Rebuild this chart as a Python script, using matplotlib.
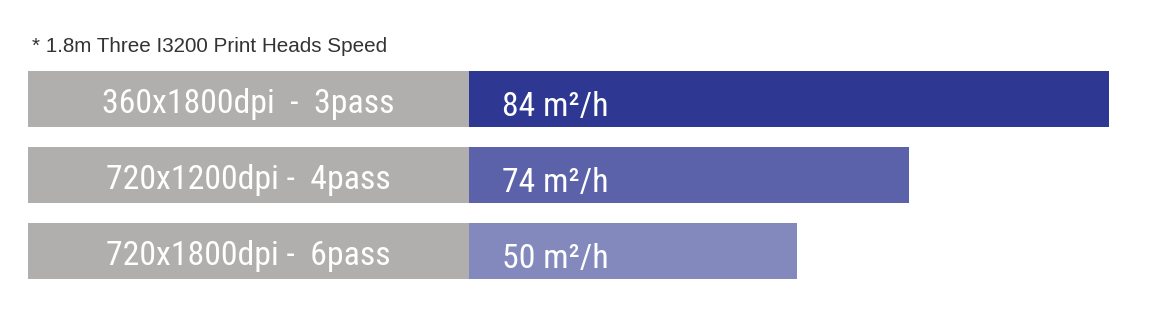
import matplotlib
matplotlib.use("Agg")
import matplotlib.pyplot as plt
from matplotlib import font_manager

# data
modes = ["360x1800dpi  -  3pass", "720x1200dpi -  4pass", "720x1800dpi -  6pass"]
speeds = [84, 74, 50]
bar_lengths = [640, 440, 328]   # drawn length of the speed bars (not proportional to the speeds)
label_width = 441               # width of the grey label block
title = "* 1.8m Three I3200 Print Heads Speed"

names = {f.name for f in font_manager.fontManager.ttflist}
narrow = "Liberation Sans"
for cand in ["Liberation Sans Narrow", "Roboto Condensed", "Open Sans Condensed", "Arial Narrow"]:
    if cand in names:
        narrow = cand
        break

grey = "#B1AEAE"
blues = ["#2E3791", "#5B62AA", "#8388BD"]

fig = plt.figure(figsize=(11.71, 3.24), dpi=100)
ax = fig.add_axes([28 / 1171, 35 / 324, 1081 / 1171, 228 / 324])

ypos = list(range(len(modes)))
ax.barh(ypos, [label_width] * len(modes), height=0.74, color=grey)
ax.barh(ypos, bar_lengths, left=label_width, height=0.74, color=blues)

fsize = 22 if narrow == "Liberation Sans" else 24.3
for y, m, s in zip(ypos, modes, speeds):
    ax.text(label_width / 2, y + 0.07, m, ha="center", va="center",
            color="white", fontsize=fsize, family=narrow)
    ax.text(label_width + 33, y + 0.1, f"{s} m²/h", ha="left", va="center",
            color="white", fontsize=fsize, family=narrow)

ax.set_xlim(0, label_width + max(bar_lengths))
ax.set_ylim(len(modes) - 0.5, -0.5)
ax.axis("off")

fig.text(32 / 1171, 1 - 46 / 324, title, ha="left", va="center",
         fontsize=14.9, color="#333333", family="Liberation Sans")

fig.savefig("out.png", dpi=100)
